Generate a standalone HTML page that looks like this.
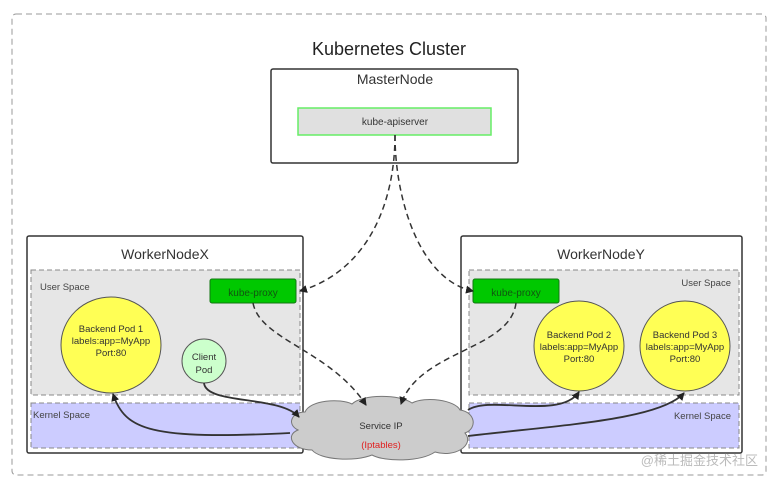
<!DOCTYPE html>
<html><head><meta charset="utf-8"><style>
body{margin:0;background:#fff;}
svg text{font-family:"Liberation Sans","Noto Sans CJK SC",sans-serif;}
</style></head><body>
<svg width="774" height="484" viewBox="0 0 774 484" xmlns="http://www.w3.org/2000/svg">
<defs>
<marker id="a" markerWidth="8" markerHeight="8" refX="7" refY="4" orient="auto" markerUnits="userSpaceOnUse"><path d="M0,0 L8,4 L0,8 z" fill="#222"/></marker>
</defs>
<rect x="12" y="14" width="754" height="461" rx="4" fill="#fff" stroke="#999" stroke-dasharray="6,4"/>
<text x="389" y="55" font-size="18" text-anchor="middle" fill="#222">Kubernetes Cluster</text>
<rect x="271" y="69" width="247" height="94" rx="2" fill="#fff" stroke="#333" stroke-width="1.5"/>
<text x="395" y="84" font-size="14" text-anchor="middle" fill="#333">MasterNode</text>
<rect x="298" y="108" width="193" height="27" fill="#e0e0e0" stroke="#66ee66" stroke-width="1.5"/>
<text x="395" y="125" font-size="10" text-anchor="middle" fill="#333">kube-apiserver</text>

<!-- Worker X -->
<rect x="27" y="236" width="276" height="217" rx="2" fill="#fff" stroke="#333" stroke-width="1.5"/>
<text x="165" y="259" font-size="14" text-anchor="middle" fill="#333">WorkerNodeX</text>
<rect x="31" y="270" width="269" height="125" fill="#e6e6e6" stroke="#888" stroke-dasharray="5,3"/>
<text x="40" y="290" font-size="9.5" fill="#444">User Space</text>
<rect x="31" y="403" width="269" height="45" fill="#ccccff" stroke="#888" stroke-dasharray="5,3"/>
<text x="33" y="418" font-size="9.5" fill="#444">Kernel Space</text>
<rect x="210" y="279" width="86" height="24" rx="2" fill="#00c800" stroke="#117711"/>
<text x="253" y="296" font-size="10" text-anchor="middle" fill="#115511">kube-proxy</text>
<ellipse cx="111" cy="345" rx="50" ry="48" fill="#ffff55" stroke="#555"/>
<text x="111" y="332" font-size="9.5" text-anchor="middle" fill="#333">Backend Pod 1</text>
<text x="111" y="344" font-size="9.5" text-anchor="middle" fill="#333">labels:app=MyApp</text>
<text x="111" y="356" font-size="9.5" text-anchor="middle" fill="#333">Port:80</text>
<circle cx="204" cy="361" r="22" fill="#ccffcc" stroke="#555"/>
<text x="204" y="360" font-size="9.5" text-anchor="middle" fill="#333">Client</text>
<text x="204" y="373" font-size="9.5" text-anchor="middle" fill="#333">Pod</text>

<!-- Worker Y -->
<rect x="461" y="236" width="281" height="217" rx="2" fill="#fff" stroke="#333" stroke-width="1.5"/>
<text x="601" y="259" font-size="14" text-anchor="middle" fill="#333">WorkerNodeY</text>
<rect x="469" y="270" width="270" height="125" fill="#e6e6e6" stroke="#888" stroke-dasharray="5,3"/>
<text x="731" y="286" font-size="9.5" text-anchor="end" fill="#444">User Space</text>
<rect x="469" y="403" width="270" height="45" fill="#ccccff" stroke="#888" stroke-dasharray="5,3"/>
<text x="731" y="419" font-size="9.5" text-anchor="end" fill="#444">Kernel Space</text>
<rect x="473" y="279" width="86" height="24" rx="2" fill="#00c800" stroke="#117711"/>
<text x="516" y="296" font-size="10" text-anchor="middle" fill="#115511">kube-proxy</text>
<ellipse cx="579" cy="346" rx="45" ry="45" fill="#ffff55" stroke="#555"/>
<text x="579" y="338" font-size="9.5" text-anchor="middle" fill="#333">Backend Pod 2</text>
<text x="579" y="350" font-size="9.5" text-anchor="middle" fill="#333">labels:app=MyApp</text>
<text x="579" y="362" font-size="9.5" text-anchor="middle" fill="#333">Port:80</text>
<ellipse cx="685" cy="346" rx="45" ry="45" fill="#ffff55" stroke="#555"/>
<text x="685" y="338" font-size="9.5" text-anchor="middle" fill="#333">Backend Pod 3</text>
<text x="685" y="350" font-size="9.5" text-anchor="middle" fill="#333">labels:app=MyApp</text>
<text x="685" y="362" font-size="9.5" text-anchor="middle" fill="#333">Port:80</text>

<!-- cloud -->
<path d="M305,412 C310,400 340,398 352,404 C362,394 400,394 412,403 C425,396 455,400 460,410 C475,412 478,428 465,433 C475,445 455,458 435,452 C420,462 385,462 372,455 C355,462 320,460 312,450 C292,450 285,435 298,430 C286,424 292,412 305,412 Z" fill="#cccccc" stroke="#777"/>
<text x="381" y="429" font-size="9.5" text-anchor="middle" fill="#333">Service IP</text>
<text x="381" y="448" font-size="9.5" text-anchor="middle" fill="#e02020">(Iptables)</text>

<!-- dashed connectors -->
<g fill="none" stroke="#333" stroke-width="1.5" stroke-dasharray="6,4">
<path d="M395,135 C395,200 370,270 300,291" marker-end="url(#a)"/>
<path d="M395,135 C395,200 420,280 473,291" marker-end="url(#a)"/>
<path d="M253,303 C260,340 330,350 366,405" marker-end="url(#a)"/>
<path d="M516,303 C510,350 420,350 401,404" marker-end="url(#a)"/>
</g>
<!-- solid connectors -->
<g fill="none" stroke="#333" stroke-width="1.8">
<path d="M204,383 C206,405 280,395 299,417" marker-end="url(#a)"/>
<path d="M290,433 C150,440 125,430 113,394" marker-end="url(#a)"/>
<path d="M468,410 C490,395 560,420 579,392" marker-end="url(#a)"/>
<path d="M468,436 C560,425 660,420 684,393" marker-end="url(#a)"/>
</g>
<text x="758" y="465" font-size="13" text-anchor="end" fill="#bbb">@稀土掘金技术社区</text>
</svg>
</body></html>
